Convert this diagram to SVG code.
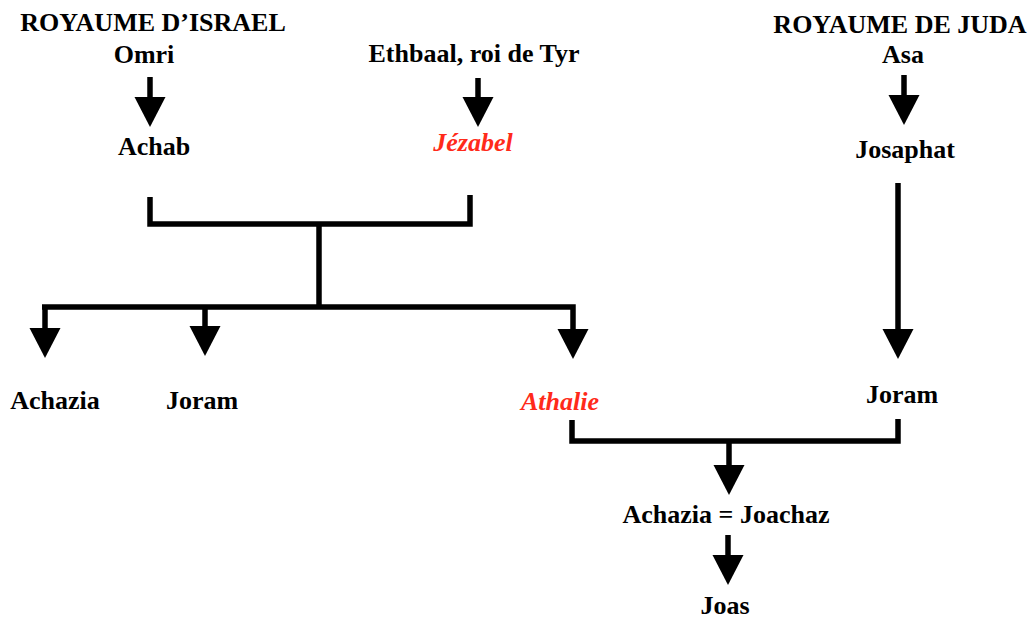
<svg xmlns="http://www.w3.org/2000/svg" xmlns:xlink="http://www.w3.org/1999/xlink" width="1034" height="619" viewBox="0 0 1034 619">
<style>
.t{font-family:"Liberation Serif","Times New Roman",serif;font-weight:bold;font-size:26px;fill:#000;text-anchor:middle}
.r{fill:#ff2a1a;font-style:italic}
.c{stroke:#000;stroke-width:5.5;fill:none;stroke-linejoin:miter;stroke-linecap:butt}
.h{fill:#000}
</style>
<defs>
<path id="head" d="M-15.5,0 L15.5,0 L0,30 Z"/>
</defs>
<rect width="1034" height="619" fill="#fff"/>
<g id="connectors">
<path class="c" d="M150,77 V98"/>
<use class="h" xlink:href="#head" x="150" y="97"/>
<path class="c" d="M478,78 V98"/>
<use class="h" xlink:href="#head" x="478" y="97"/>
<path class="c" d="M904,75 V96"/>
<use class="h" xlink:href="#head" x="904" y="95"/>
<path class="c" d="M150,197 V224 H470 V195"/>
<path class="c" d="M319,224 V307"/>
<path class="c" d="M42,307 H573 V330"/>
<path class="c" d="M45,307 V329"/>
<use class="h" xlink:href="#head" x="45" y="328"/>
<path class="c" d="M205,307 V327"/>
<use class="h" xlink:href="#head" x="205" y="326"/>
<use class="h" xlink:href="#head" x="573" y="329"/>
<path class="c" d="M898,183 V330"/>
<use class="h" xlink:href="#head" x="898" y="329"/>
<path class="c" d="M572,420 V441 H898 V419"/>
<path class="c" d="M729,441 V466"/>
<use class="h" xlink:href="#head" x="729" y="465"/>
<path class="c" d="M728,535 V556"/>
<use class="h" xlink:href="#head" x="728" y="555"/>
</g>
<g id="israel-title"><text class="t" x="153" y="31">ROYAUME D’ISRAEL</text></g>
<g id="omri"><text class="t" x="144" y="63">Omri</text></g>
<g id="achab"><text class="t" x="154" y="155">Achab</text></g>
<g id="ethbaal"><text class="t" x="474" y="62">Ethbaal, roi de Tyr</text></g>
<g id="jezabel"><text class="t r" x="473" y="151">Jézabel</text></g>
<g id="juda-title"><text class="t" x="900" y="33">ROYAUME DE JUDA</text></g>
<g id="asa"><text class="t" x="903" y="63">Asa</text></g>
<g id="josaphat"><text class="t" x="905" y="158">Josaphat</text></g>
<g id="achazia"><text class="t" x="55" y="409">Achazia</text></g>
<g id="joram-israel"><text class="t" x="202" y="409">Joram</text></g>
<g id="athalie"><text class="t r" x="560" y="410">Athalie</text></g>
<g id="joram-juda"><text class="t" x="902" y="403">Joram</text></g>
<g id="achazia-joachaz"><text class="t" x="726" y="523">Achazia = Joachaz</text></g>
<g id="joas"><text class="t" x="725" y="614">Joas</text></g>
</svg>
